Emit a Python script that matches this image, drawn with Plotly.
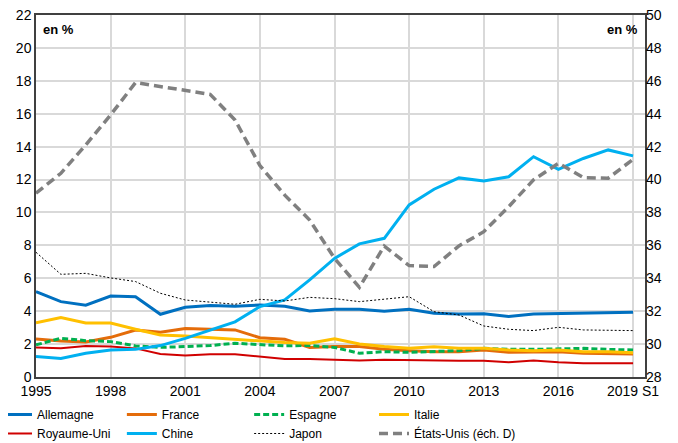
import plotly.graph_objects as go

years = list(range(1995, 2020))
tick_years = [1995, 1998, 2001, 2004, 2007, 2010, 2013, 2016, 2019]
tick_text = ["1995", "1998", "2001", "2004", "2007", "2010", "2013", "2016", "2019 S1"]

allemagne = [5.19, 4.58, 4.36, 4.92, 4.88, 3.81, 4.24, 4.34, 4.30, 4.38, 4.30, 4.01, 4.12,
             4.12, 4.00, 4.11, 3.87, 3.83, 3.85, 3.67, 3.83, 3.85, 3.87, 3.91, 3.94]
france = [2.31, 2.19, 2.13, 2.41, 2.86, 2.72, 2.94, 2.90, 2.86, 2.39, 2.29, 1.80, 1.85,
          1.85, 1.68, 1.60, 1.54, 1.54, 1.64, 1.50, 1.54, 1.54, 1.44, 1.42, 1.40]
espagne = [1.95, 2.35, 2.21, 2.15, 1.89, 1.80, 1.85, 1.91, 2.05, 1.95, 1.89, 1.92, 1.80,
           1.44, 1.54, 1.50, 1.54, 1.60, 1.74, 1.68, 1.68, 1.70, 1.74, 1.68, 1.64]
italie = [3.30, 3.61, 3.28, 3.28, 2.90, 2.55, 2.49, 2.39, 2.30, 2.21, 2.09, 2.05, 2.33,
          2.01, 1.85, 1.74, 1.84, 1.74, 1.74, 1.64, 1.60, 1.64, 1.54, 1.54, 1.48]
royaume_uni = [1.80, 1.74, 1.89, 1.85, 1.74, 1.40, 1.30, 1.38, 1.38, 1.24, 1.09, 1.09, 1.05,
               1.01, 1.05, 1.03, 0.97, 0.99, 0.99, 0.89, 1.00, 0.89, 0.83, 0.83, 0.83]
chine = [1.24, 1.13, 1.44, 1.64, 1.68, 1.91, 2.35, 2.86, 3.35, 4.28, 4.68, 5.90, 7.21,
         8.09, 8.43, 10.46, 11.41, 12.10, 11.91, 12.17, 13.39, 12.62, 13.28, 13.80, 13.44]
japon = [7.58, 6.24, 6.30, 6.02, 5.80, 5.09, 4.68, 4.54, 4.42, 4.72, 4.62, 4.84, 4.76,
         4.58, 4.74, 4.88, 3.97, 3.77, 3.10, 2.90, 2.82, 3.02, 2.86, 2.82, 2.82]
etats_unis = [39.17, 40.38, 42.10, 43.93, 45.89, 45.65, 45.45, 45.18, 43.62, 40.85, 39.05,
              37.54, 35.21, 33.45, 35.96, 34.77, 34.71, 35.97, 36.83, 38.35, 39.98, 40.99,
              40.12, 40.08, 41.23]

FONT = "Liberation Sans, Arial, sans-serif"
GRID = "#d9d9d9"

fig = go.Figure()


def add_line(name, values, color, width, legend, dash="solid", yaxis="y"):
    fig.add_trace(go.Scatter(
        x=years, y=values, name=name, mode="lines", yaxis=yaxis, legend=legend,
        line=dict(color=color, width=width, dash=dash),
    ))


add_line("Allemagne", allemagne, "#0070C0", 3, "legend")
add_line("France", france, "#E46C0A", 3, "legend2")
add_line("Espagne", espagne, "#00B050", 3, "legend3", dash="6px,3px")
add_line("Italie", italie, "#FFC000", 3, "legend4")
add_line("Royaume-Uni", royaume_uni, "#D00000", 2, "legend")
add_line("Chine", chine, "#00B0F0", 3, "legend2")
add_line("Japon", japon, "#000000", 1, "legend3", dash="2px,2px")
add_line("États-Unis (éch. D)", etats_unis, "#808080", 3.5, "legend4",
         dash="9px,5px", yaxis="y2")


def legend_col(x):
    return dict(
        orientation="v", x=x, xanchor="left", y=-0.0635, yanchor="top",
        font=dict(size=12), itemwidth=30, bgcolor="rgba(0,0,0,0)",
        traceorder="normal", tracegroupgap=0,
    )


# the page body adds an 8px offset, so margins are shifted to compensate
fig.update_layout(
    width=678, height=443,
    paper_bgcolor="white", plot_bgcolor="white",
    font=dict(family=FONT, size=14, color="#000000"),
    margin=dict(l=28, r=41, t=7, b=74, autoexpand=False),
    showlegend=True,
    legend=legend_col(-0.064),
    legend2=legend_col(0.141),
    legend3=legend_col(0.350),
    legend4=legend_col(0.555),
    xaxis=dict(
        range=[1995, 2019.48], tickvals=tick_years, ticktext=tick_text,
        showgrid=True, gridcolor=GRID, gridwidth=1.5,
        showline=True, linecolor="#404040", linewidth=1.5, mirror=True,
        ticks="", zeroline=False, tickfont=dict(size=14), ticklabeloverflow="allow",
    ),
    yaxis=dict(
        range=[0, 22], dtick=2, showgrid=True, gridcolor=GRID, gridwidth=2,
        showline=True, linecolor="#404040", linewidth=1.5, mirror=True,
        ticks="", zeroline=False, tickfont=dict(size=14), ticklabeloverflow="allow",
    ),
    yaxis2=dict(
        range=[28, 50], dtick=2, overlaying="y", side="right", showgrid=False,
        ticks="", zeroline=False, tickfont=dict(size=14), ticklabeloverflow="allow",
    ),
    annotations=[
        dict(text="<b>en %</b>", xref="paper", yref="paper", x=0.008, y=0.985,
             xanchor="left", yanchor="top", showarrow=False, font=dict(size=13)),
        dict(text="<b>en %</b>", xref="paper", yref="paper", x=0.992, y=0.985,
             xanchor="right", yanchor="top", showarrow=False, font=dict(size=13)),
    ],
)

fig.write_html("out.html")
